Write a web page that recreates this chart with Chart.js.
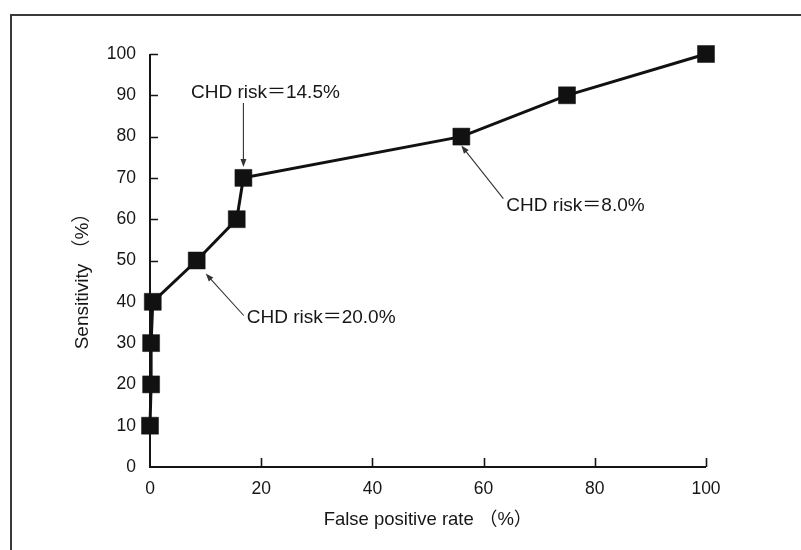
<!DOCTYPE html>
<html><head><meta charset="utf-8">
<script src="https://cdn.jsdelivr.net/npm/chart.js@4.4.1/dist/chart.umd.min.js"></script>
<style>html,body{margin:0;padding:0;background:#fff;overflow:hidden}#wrap{width:801px;height:550px;position:relative}</style>
</head><body><div id="wrap"><canvas id="c" width="801" height="550"></canvas></div>
<script>
// ---- data ----
const falsePositiveRate = [0, 0.2, 0.2, 0.5, 8.4, 15.6, 16.8, 56, 75, 100];
const sensitivity = [10, 20, 30, 40, 50, 60, 70, 80, 90, 100];
const xTickValues = [0, 20, 40, 60, 80, 100];
const yTickValues = [0, 10, 20, 30, 40, 50, 60, 70, 80, 90, 100];
const xAxisTitle = "False positive rate \uFF08%\uFF09";
const yAxisTitle = "Sensitivity \uFF08%\uFF09";
const annotationTexts = ["CHD risk\uFF1D14.5%", "CHD risk\uFF1D20.0%", "CHD risk\uFF1D8.0%"];
const annotationPointIndex = [6, 4, 7];

// ---- layout / style of annotations (pixel offsets from the target point) ----
const annotationLayout = [
  { tip: [0, -11], tail: [0, -75], text: [22, -85], align: 'center' },
  { tip: [9, 13], tail: [47, 55], text: [50, 57], align: 'left' },
  { tip: [0, 9], tail: [42, 62], text: [45, 69], align: 'left' }
];

const FONT = '"Liberation Sans", Arial, Helvetica, "Noto Sans CJK SC", sans-serif';
const INK = '#151515';
const TEXT = '#161616';

const points = falsePositiveRate.map((x, i) => ({ x: x, y: sensitivity[i] }));

function arrow(ctx, x1, y1, x2, y2) {
  const a = Math.atan2(y2 - y1, x2 - x1);
  const L = 8, W = 3;
  ctx.beginPath();
  ctx.moveTo(x1, y1);
  ctx.lineTo(x2 - Math.cos(a) * L * 0.6, y2 - Math.sin(a) * L * 0.6);
  ctx.stroke();
  ctx.beginPath();
  ctx.moveTo(x2, y2);
  ctx.lineTo(x2 - Math.cos(a) * L - Math.sin(a) * W, y2 - Math.sin(a) * L + Math.cos(a) * W);
  ctx.lineTo(x2 - Math.cos(a) * L + Math.sin(a) * W, y2 - Math.sin(a) * L - Math.cos(a) * W);
  ctx.closePath();
  ctx.fill();
}

const overlay = {
  id: 'overlay',
  beforeDraw(chart) {
    const ctx = chart.ctx;
    ctx.save();
    ctx.fillStyle = '#fff';
    ctx.fillRect(0, 0, chart.width, chart.height);
    ctx.strokeStyle = '#3a3a3a';
    ctx.lineWidth = 2;
    ctx.beginPath();
    ctx.moveTo(11, chart.height + 5);
    ctx.lineTo(11, 15);
    ctx.lineTo(chart.width + 5, 15);
    ctx.stroke();
    ctx.restore();
  },
  beforeDatasetsDraw(chart) {
    const ctx = chart.ctx;
    const xs = chart.scales.x, ys = chart.scales.y;
    const x0 = xs.getPixelForValue(0), x1 = xs.getPixelForValue(100);
    const y0 = ys.getPixelForValue(0), y1 = ys.getPixelForValue(100);
    ctx.save();
    ctx.strokeStyle = INK;
    ctx.lineWidth = 2;
    ctx.beginPath();
    ctx.moveTo(x0, y1); ctx.lineTo(x0, y0); ctx.lineTo(x1, y0);
    ctx.stroke();
    ctx.lineWidth = 1.6;
    ctx.beginPath();
    yTickValues.forEach(v => {
      if (v === 0) return;
      const y = Math.round(ys.getPixelForValue(v)) + 0.5;
      ctx.moveTo(x0, y); ctx.lineTo(x0 + 8, y);
    });
    xTickValues.forEach(v => {
      if (v === 0) return;
      const x = Math.round(xs.getPixelForValue(v)) + 0.5;
      ctx.moveTo(x, y0); ctx.lineTo(x, y0 - 9);
    });
    ctx.stroke();
    // y-axis title
    ctx.fillStyle = TEXT;
    ctx.font = '19px ' + FONT;
    ctx.textAlign = 'center';
    ctx.textBaseline = 'middle';
    ctx.translate(83, (y0 + y1) / 2 + 16);
    ctx.rotate(-Math.PI / 2);
    ctx.fillText(yAxisTitle, 0, 0);
    ctx.restore();
  },
  afterDatasetsDraw(chart) {
    const ctx = chart.ctx;
    const meta = chart.getDatasetMeta(0);
    ctx.save();
    ctx.strokeStyle = '#333';
    ctx.fillStyle = '#333';
    ctx.lineWidth = 1.1;
    annotationTexts.forEach((t, i) => {
      const p = meta.data[annotationPointIndex[i]];
      const L = annotationLayout[i];
      arrow(ctx, p.x + L.tail[0], p.y + L.tail[1], p.x + L.tip[0], p.y + L.tip[1]);
    });
    ctx.fillStyle = TEXT;
    ctx.font = '19px ' + FONT;
    ctx.textBaseline = 'middle';
    annotationTexts.forEach((t, i) => {
      const p = meta.data[annotationPointIndex[i]];
      const L = annotationLayout[i];
      ctx.textAlign = L.align;
      ctx.fillText(t, p.x + L.text[0], p.y + L.text[1]);
    });
    ctx.restore();
  }
};

new Chart(document.getElementById('c'), {
  type: 'scatter',
  data: {
    datasets: [{
      data: points,
      showLine: true,
      borderColor: '#111',
      borderWidth: 3,
      backgroundColor: '#111',
      pointStyle: 'rect',
      pointRadius: 12,
      pointBorderWidth: 0.5,
      pointBorderColor: '#111',
      pointBackgroundColor: '#111',
      clip: false,
      tension: 0
    }]
  },
  options: {
    responsive: false,
    animation: false,
    devicePixelRatio: 1,
    layout: { padding: { left: 0, top: 54, right: 95, bottom: 0 } },
    plugins: { legend: { display: false }, tooltip: { enabled: false } },
    scales: {
      x: {
        type: 'linear', min: 0, max: 100,
        afterBuildTicks: s => { s.ticks = xTickValues.map(v => ({ value: v })); },
        afterFit: s => { s.height = 83; },
        grid: { display: false, drawTicks: false },
        border: { display: false },
        ticks: { color: TEXT, font: { family: FONT, size: 17.5 }, padding: 12, maxRotation: 0, autoSkip: false },
        title: { display: true, text: xAxisTitle, color: TEXT, font: { family: FONT, size: 18.5 }, padding: { top: 0, bottom: 19 } }
      },
      y: {
        type: 'linear', min: 0, max: 100,
        afterBuildTicks: s => { s.ticks = yTickValues.map(v => ({ value: v })); },
        afterFit: s => { s.width = 150; },
        grid: { display: false, drawTicks: false },
        border: { display: false },
        ticks: { color: TEXT, font: { family: FONT, size: 17.5 }, padding: 14, autoSkip: false },
        title: { display: false, text: yAxisTitle }
      }
    }
  },
  plugins: [overlay]
});
</script></body></html>
